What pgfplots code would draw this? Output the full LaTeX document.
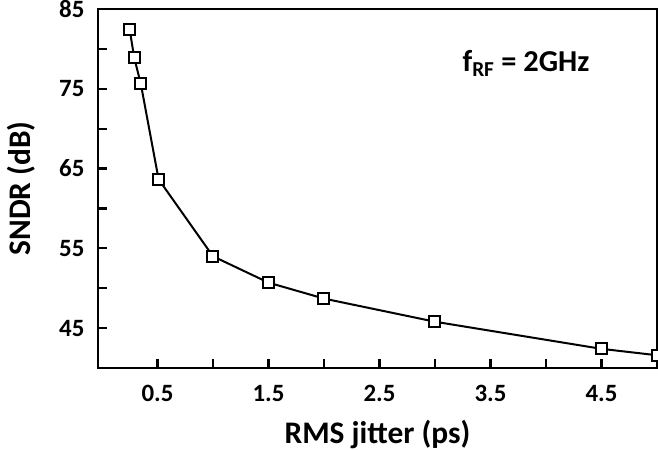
\documentclass[border=0pt]{standalone}
\usepackage{fontspec}
\setmainfont{Carlito}
\usepackage{pgfplots}
\pgfplotsset{compat=1.18}
\begin{document}
\begin{tikzpicture}
\begin{axis}[
  at={(0,0)}, anchor=south west,
  scale only axis, width=559bp, height=359bp,
  xmin=-0.036, xmax=5, ymin=40, ymax=85,
  axis line style={line width=2.6bp},
  xtick={0.5,1.5,2.5,3.5,4.5},
  minor xtick={1,2,3,4},
  ytick={45,55,65,75,85},
  minor ytick={50,60,70,80},
  xticklabels={0.5,1.5,2.5,3.5,4.5},
  tick align=inside,
  xtick pos=bottom, ytick pos=left,
  major tick length=9bp, minor tick length=9bp,
  every tick/.style={line width=2.2bp, black},
  /pgf/number format/assume math mode=true,
  ticklabel style={font=\fontsize{25}{30}\selectfont\bfseries},
  xticklabel style={yshift=-14bp},
  yticklabel style={xshift=-10bp},
  xlabel={RMS jitter (ps)},
  ylabel={SNDR (dB)},
  label style={font=\fontsize{31.5}{36}\selectfont\bfseries},
  xlabel style={yshift=-11bp},
  ylabel style={yshift=17bp},
  clip=false,
]
\addplot[black, line width=2bp, mark=square*, mark options={fill=white, line width=2bp}, mark size=5.5bp]
coordinates {
(0.25,82.4) (0.29,78.9) (0.35,75.6) (0.51,63.65) (1.0,54.0) (1.5,50.7) (2.0,48.7) (3.0,45.8) (4.5,42.4) (5.0,41.6)
};
\node[font=\fontsize{30.5}{36}\selectfont\bfseries] at (axis cs:3.82,78.2) {f\textsubscript{RF} = 2GHz};
\end{axis}
\pgfresetboundingbox
\path (-98bp,-82bp) rectangle (560bp,368bp);
\end{tikzpicture}
\end{document}
